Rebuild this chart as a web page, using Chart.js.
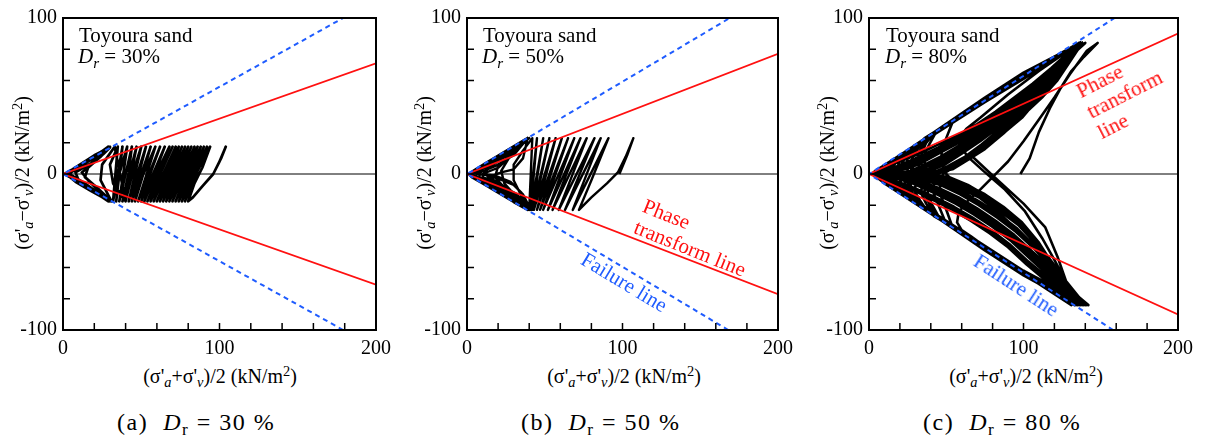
<!DOCTYPE html>
<html>
<head>
<meta charset="utf-8">
<script src="https://cdn.jsdelivr.net/npm/chart.js@4.4.0/dist/chart.umd.min.js"></script>
<style>
  body { margin: 0; background: #fff; width: 1207px; height: 438px; position: relative; overflow: hidden;
         font-family: "Liberation Serif", "Times New Roman", serif; color: #000; }
  .panel { position: absolute; top: 0; width: 400px; height: 360px; }
  .txt { position: absolute; white-space: nowrap; line-height: 1; }
  .note { font-size: 21px; line-height: 21px; }
  .axt { font-size: 20px; line-height: 20px; width: 300px; text-align: center; }
  .ayt { font-size: 20px; line-height: 24px; width: 240px; height: 24px; text-align: center; transform: rotate(-90deg); }
  .cap { font-size: 24px; line-height: 24px; letter-spacing: 1.5px; }
  .lab { font-size: 21px; line-height: 23px; transform-origin: 50% 50%; }
  .red { color: #ff1010; }
  .blue { color: #1f5cff; }
  .sub { font-size: 0.72em; vertical-align: -0.3em; line-height: 0; }
  .sup { font-size: 0.72em; vertical-align: 0.5em; line-height: 0; }
</style>
</head>
<body>

<div class="panel" style="left:0"><canvas id="cA" width="400" height="360"></canvas></div>
<div class="panel" style="left:400px"><canvas id="cB" width="400" height="360"></canvas></div>
<div class="panel" style="left:800px"><canvas id="cC" width="400" height="360"></canvas></div>

<!-- panel (a) -->
<div class="txt note" style="left:79px; top:25px">Toyoura sand</div>
<div class="txt note" style="left:78px; top:46px"><i>D</i><span class="sub"><i>r</i></span> = 30%</div>
<div class="txt axt" style="left:70px; top:366px">(σ'<span class="sub"><i>a</i></span>+σ'<span class="sub"><i>v</i></span>)/2 (kN/m<span class="sup">2</span>)</div>
<div class="txt ayt" style="left:-98px; top:161px">(σ'<span class="sub"><i>a</i></span>−σ'<span class="sub"><i>v</i></span>)/2 (kN/m<span class="sup">2</span>)</div>
<div class="txt cap" style="left:117px; top:410px">(a)&nbsp;&nbsp;<i>D</i><span class="sub">r</span> = 30 %</div>

<!-- panel (b) -->
<div class="txt note" style="left:483px; top:25px">Toyoura sand</div>
<div class="txt note" style="left:482px; top:46px"><i>D</i><span class="sub"><i>r</i></span> = 50%</div>
<div class="txt axt" style="left:474px; top:366px">(σ'<span class="sub"><i>a</i></span>+σ'<span class="sub"><i>v</i></span>)/2 (kN/m<span class="sup">2</span>)</div>
<div class="txt ayt" style="left:304px; top:161px">(σ'<span class="sub"><i>a</i></span>−σ'<span class="sub"><i>v</i></span>)/2 (kN/m<span class="sup">2</span>)</div>
<div class="txt cap" style="left:521px; top:410px">(b)&nbsp;&nbsp;<i>D</i><span class="sub">r</span> = 50 %</div>
<div class="txt lab red" style="left:635px; top:215px; width:118px; height:46px; transform:rotate(22deg)">Phase<br>transform line</div>
<div class="txt lab blue" style="left:576px; top:271px; width:96px; height:23px; transform:rotate(31deg)">Failure line</div>

<!-- panel (c) -->
<div class="txt note" style="left:886px; top:25px">Toyoura sand</div>
<div class="txt note" style="left:885px; top:46px"><i>D</i><span class="sub"><i>r</i></span> = 80%</div>
<div class="txt axt" style="left:876px; top:366px">(σ'<span class="sub"><i>a</i></span>+σ'<span class="sub"><i>v</i></span>)/2 (kN/m<span class="sup">2</span>)</div>
<div class="txt ayt" style="left:707px; top:161px">(σ'<span class="sub"><i>a</i></span>−σ'<span class="sub"><i>v</i></span>)/2 (kN/m<span class="sup">2</span>)</div>
<div class="txt cap" style="left:923px; top:410px">(c)&nbsp;&nbsp;<i>D</i><span class="sub">r</span> = 80 %</div>
<div class="txt lab red" style="left:1084px; top:60px; width:82px; height:69px; transform:rotate(-27deg)">Phase<br>transform<br>line</div>
<div class="txt lab blue" style="left:968px; top:274px; width:96px; height:23px; transform:rotate(33deg)">Failure line</div>

<script>
// axis ranges and labelled ticks
const xRange = [0, 200];
const yRange = [-100, 100];
const tickStep = 20;
const xTickLabels = [0, 100, 200];
const yTickLabels = [-100, 0, 100];

const zeroLine = [[0, 0], [200, 0]];

// phase transform and failure lines (both branches, through the origin)
const phaseA = [[200, -71], [0, 0], [200, 71]];
const failureA = [[179, -100], [0, 0], [179, 100]];
const phaseB = [[200, -77], [0, 0], [200, 77]];
const failureB = [[168, -100], [0, 0], [169, 100]];
const phaseC = [[200, -90], [0, 0], [200, 90]];
const failureC = [[158, -100], [0, 0], [159, 100]];

// effective stress paths, Dr = 30 %
const pathA = [
  [96, 0], [101, 10], [104, 17.5], [100, 8], [96, 0], [89, -8], [83, -15], [80, -17.5],
  [84, -6], [89, 4], [94, 17.5], [86, 2], [78, -17.5], [85, 1], [92, 17.5], [83, -2], [76, -17.5],
  [90, 17.5], [74, -17.5], [81, 0], [88, 17.5], [72, -17.5], [86, 17.5], [77, -1], [70, -17.5],
  [84, 17.5], [68, -17.5], [75, 1], [82, 17.5], [66, -17.5], [80, 17.5], [71, -2], [64, -17.5],
  [78, 17.5], [62, -17.5], [69, 1], [76, 17.5], [60, -17.5], [74, 17.5], [65, -1], [58, -17.5],
  [72, 17.5], [56, -17.5], [63, 2], [70, 17.5], [54, -17.5], [68, 17.5], [59, -1], [52, -17.5],
  [65, 17.5], [50, -17.5], [56, 1], [62, 17.5], [48, -17.5], [59, 17.5], [51, -1], [46, -17.5],
  [56, 17.5], [44, -17.5], [49, 2], [53, 17.5], [42, -17.5], [50, 17.5], [44, -1], [40, -17.5],
  [47, 17.5], [38, -17.5], [42, 1], [44, 17.5], [36, -17.5], [41, 17.5], [36, 0], [34, -17.5],
  [38, 17.5], [32, -17.5], [35, 17.5], [30, 6], [32, -6], [40, -17.5], [33, 17.5], [25, 6],
  [24, -4], [31, -17.5], [22, -9], [14, -2], [16, 4], [24, 11], [30, 17.5], [18, 7], [8, 1],
  [10, -4], [20, -11], [30, -17.5], [14, -6], [4, 0], [10, 5], [20, 11], [29, 17.5], [12, 5],
  [3, 0], [12, -6], [29, -17.5], [10, -4], [2, 0], [10, 5], [28, 16.5], [8, 3], [1, 0], [8, -4],
  [28, -16.5], [20, -11], [12, -6], [4, -1], [6, 2], [16, 8], [28, 15.5], [18, 10], [8, 4],
  [2, 0], [8, -5], [18, -11], [29, -17], [22, -10], [16, -4], [12, 1], [18, 6], [26, 13], [30, 17],
  [20, 12], [6, 3], [1, 0], [6, -3], [18, -10], [28, -16], [6, -2], [1, 0], [6, 3], [27, 16]
];

// effective stress paths, Dr = 50 %
const pathB = [
  [98, 0], [103, 12], [107, 23], [102, 11], [97, 1], [90, -6], [80, -15], [72, -23],
  [80, -4], [91, 23], [68, -23], [86, 23], [63, -23], [82, 23], [59, -23], [77, 23],
  [55, -23], [73, 23], [52, -23], [69, 23], [49, -23], [65, 23], [47, -23], [61, 23],
  [45, -23], [57, 23], [43, -23], [53, 23], [42, -23], [49, 23], [41, -23], [45, 23],
  [40, -23], [42, 23], [36, 15], [30, 6], [30, -4], [35, -14], [41, -23],
  [32, -15], [24, -6], [22, 2], [28, 12], [40, 23], [30, 14], [20, 5], [18, -2], [26, -11], [40, -23],
  [28, -14], [14, -4], [12, 2], [22, 10], [40, 23], [26, 12], [12, 3], [10, -2], [20, -6], [32, -13], [41, -23],
  [24, -12], [8, -2], [8, 2], [20, 10], [39, 23], [20, 10], [6, 1], [6, -2], [18, -6], [30, -13], [40, -23],
  [18, -9], [4, -1], [5, 2], [18, 10], [39, 23], [14, 7], [2, 0], [14, -5], [28, -12], [40, -23],
  [12, -6], [1, 0], [12, 7], [38, 22.5], [26, 14], [14, 6], [4, 1], [3, -1], [12, -6], [24, -13],
  [40, -23], [26, -15], [12, -6], [3, -1], [4, 1], [14, 8], [26, 15], [39, 23], [30, 17], [18, 9],
  [8, 3], [2, 0], [8, -4], [18, -10], [30, -17], [40, -23], [32, -18], [22, -12], [10, -5], [2, 0],
  [10, 5], [22, 12], [32, 18], [39, 23], [30, 13], [20, 4], [10, 0], [20, -3], [30, -7], [36, -13],
  [41, -23], [35, -12], [28, -5], [18, -1], [6, 0], [18, 5], [30, 12], [39, 23], [36, 10], [30, 3],
  [22, 1], [14, -2], [24, -8], [34, -15], [40, -23], [30, -16], [20, -10], [8, -4], [2, 0], [12, 6],
  [24, 13], [38, 22.5], [28, 16], [16, 9], [6, 3], [1, 0], [6, -3], [18, -10], [30, -17], [39, -23],
  [30, -18], [20, -12], [10, -6], [3, -2], [1, 0], [4, 2], [12, 7], [22, 13], [31, 18], [39, 23],
  [28, 15], [16, 7], [6, 2], [2, 0], [6, -2], [16, -8], [28, -16], [38, -22]
];

// effective stress paths, Dr = 80 %
const pathC = [
  [98, 0], [104, 10], [110, 27], [117, 42], [124, 55], [131, 66], [139, 75], [148, 84],
  [141, 79], [130, 64], [120, 49], [110, 35], [100, 21], [90, 8], [80, -2], [71, -11], [62, -19],
  [58, -25], [57, -31], [60, -36], [66, -40], [80, -50], [100, -63], [120, -76], [142, -84],
  [136, -79], [127, -68], [120, -55], [112, -41], [101, -24], [88, -10], [74, 2], [64, 11],
  [59, 18], [59, 24], [63, 29], [72, 36], [90, 51], [110, 66], [126, 77], [140, 84],
  [131, 76], [118, 60], [104, 45], [90, 32], [78, 21], [68, 14], [66, 12], [80, -1], [100, -19],
  [114, -34], [122, -53], [128, -70], [133, -84],
  [126, -75], [118, -60], [108, -45], [96, -32], [84, -21], [72, -13], [60, -6], [52, -2], [50, 0],
  [47, 7], [47, 15], [50, 23], [54, 33], [75, 46], [100, 62], [120, 74], [137, 84],
  [130, 72], [122, 60], [112, 49], [100, 38], [90, 30], [78, 20], [66, 11], [56, 5], [48, 0],
  [46, -6], [46, -13], [49, -20], [54, -34], [75, -47], [100, -63], [137, -84],
  [128, -73], [118, -60], [106, -46], [94, -34], [82, -23], [70, -14], [58, -7], [46, -2], [36, 0],
  [34, 6], [34, 13], [37, 20], [42, 26], [75, 46], [100, 61], [137, 84],
  [130, 73], [121, 61], [111, 50], [99, 37], [87, 26], [75, 16], [64, 9], [54, 3], [40, 0],
  [38, -6], [38, -13], [41, -20], [46, -29], [75, -49], [100, -65], [141, -84],
  [129, -72], [119, -58], [110, -44], [99, -31], [87, -21], [75, -13], [63, -7], [51, -2], [34, 0],
  [32, 6], [32, 13], [35, 19], [40, 25], [75, 48], [100, 64], [138, 84],
  [130, 73], [121, 62], [110, 50], [98, 38], [86, 27], [74, 18], [63, 10], [53, 4], [36, 0],
  [34, -6], [34, -13], [37, -19], [42, -27], [75, -46], [100, -62], [139, -84],
  [128, -71], [119, -57], [109, -44], [98, -32], [86, -22], [74, -14], [62, -8], [50, -3], [30, 0],
  [28, 5], [28, 12], [31, 17], [36, 23], [75, 47], [100, 63], [137, 84],
  [130, 74], [120, 62], [109, 50], [97, 39], [85, 29], [73, 19], [62, 11], [51, 5], [42, 1], [32, 0],
  [30, -5], [30, -12], [33, -17], [38, -24], [75, -48], [100, -64], [137, -84],
  [128, -71], [119, -58], [108, -45], [97, -33], [85, -24], [73, -16], [61, -10], [49, -5], [26, 0],
  [24, 5], [25, 10], [28, 15], [32, 20], [75, 49], [100, 65], [137, 84],
  [129, 74], [120, 63], [108, 51], [96, 40], [84, 30], [72, 21], [60, 13], [49, 6], [40, 2], [28, 0],
  [27, -5], [27, -10], [30, -15], [34, -21], [75, -47], [100, -63], [134, -84],
  [127, -72], [118, -59], [108, -47], [96, -35], [84, -26], [72, -18], [60, -11], [48, -6], [36, -2], [22, 0],
  [21, 4], [22, 9], [25, 13], [29, 18], [75, 46], [100, 62], [136, 84],
  [129, 74], [119, 64], [107, 52], [95, 42], [83, 32], [71, 23], [59, 15], [48, 8], [38, 3], [24, 0],
  [23, -4], [24, -9], [27, -13], [31, -19], [75, -49], [100, -65], [136, -84],
  [127, -72], [118, -60], [107, -48], [95, -37], [83, -28], [71, -20], [59, -13], [46, -7], [33, -3], [18, 0],
  [18, 4], [20, 8], [23, 12], [26, 16], [75, 48], [100, 64], [137, 84],
  [129, 75], [119, 64], [107, 53], [95, 43], [83, 33], [71, 24], [59, 16], [47, 9], [36, 4], [20, 0],
  [20, -4], [22, -8], [25, -12], [28, -17], [75, -46], [100, -62], [142, -84],
  [128, -73], [118, -61], [106, -50], [94, -39], [82, -30], [70, -22], [58, -15], [45, -9], [32, -4], [14, 0],
  [15, 3], [17, 7], [20, 10], [23, 14], [75, 47], [100, 63], [137, 84],
  [128, 75], [118, 65], [106, 54], [94, 44], [82, 35], [70, 26], [58, 18], [46, 11], [34, 5], [24, 1], [16, 0],
  [17, -3], [19, -7], [22, -10], [25, -15], [75, -48], [100, -64], [140, -84],
  [127, -74], [117, -63], [105, -52], [93, -41], [81, -32], [69, -24], [57, -17], [44, -10], [30, -5], [18, -1], [10, 0],
  [12, 3], [15, 6], [19, 10], [75, 49], [100, 65], [138, 84],
  [128, 75], [118, 65], [106, 55], [94, 45], [82, 36], [70, 28], [58, 20], [45, 13], [32, 6], [20, 2], [12, 0],
  [14, -3], [17, -6], [20, -11], [75, -47], [100, -63], [138, -84],
  [126, -75], [116, -65], [104, -54], [92, -43], [80, -34], [68, -26], [56, -19], [42, -12], [28, -6], [15, -2], [7, 0],
  [9, 2], [12, 5], [16, 9], [75, 46], [100, 62], [137, 84],
  [128, 76], [118, 66], [106, 56], [94, 47], [82, 38], [70, 29], [58, 22], [45, 15], [31, 8], [18, 3], [8, 0],
  [10, -2], [14, -6], [18, -10], [75, -49], [100, -65], [135, -84],
  [125, -76], [115, -66], [103, -56], [91, -45], [79, -36], [67, -28], [55, -21], [41, -14], [27, -8], [13, -3], [4, 0],
  [6, 2], [10, 5], [75, 48], [100, 64], [136, 84],
  [128, 76], [118, 67], [106, 57], [94, 48], [82, 39], [70, 31], [58, 24], [45, 17], [30, 10], [16, 4], [5, 0],
  [7, -2], [11, -6], [75, -47], [100, -63], [133, -84],
  [124, -77], [114, -68], [102, -58], [90, -47], [78, -38], [66, -30], [54, -23], [40, -16], [26, -9], [12, -3], [2, 0],
  [4, 2], [9, 5], [75, 47], [100, 63], [137, 84],
  [128, 77], [118, 68], [106, 58], [94, 49], [82, 40], [70, 32], [58, 25], [45, 19], [30, 12], [15, 6], [2, 0],
  [5, -2], [10, -6], [75, -48], [100, -64], [131, -84],
  [125, -76], [115, -67], [103, -57], [91, -46], [79, -37], [67, -29], [55, -22], [41, -15], [27, -8], [13, -3], [3, 0],
  [5, 2], [9, 5], [75, 47], [100, 63], [137, 84],
  [128, 76], [118, 67], [106, 57], [94, 47], [82, 38], [70, 30], [58, 23], [45, 16], [30, 9], [16, 3], [6, 0],
  [8, -2], [12, -6], [75, -48], [100, -64], [139, -84],
  [126, -74], [116, -64], [104, -53], [92, -42], [80, -33], [68, -25], [56, -18], [43, -11], [29, -5], [16, -1], [8, 0],
  [10, 2], [14, 6], [18, 10], [75, 46], [100, 62], [138, 84],
  [128, 75], [118, 66], [106, 55], [94, 46], [82, 37], [70, 28], [58, 21], [45, 14], [32, 7], [19, 2], [10, 0],
  [12, -3], [15, -6], [19, -11], [75, -47], [100, -63], [141, -84],
  [127, -73], [117, -62], [106, -51], [94, -40], [82, -31], [70, -23], [58, -16], [45, -10], [32, -4], [12, 0],
  [14, 3], [17, 7], [21, 12], [75, 48], [100, 64], [137, 84],
  [128, 75], [118, 65], [106, 54], [94, 44], [82, 34], [70, 25], [58, 17], [46, 10], [35, 4], [22, 1], [14, 0],
  [15, -3], [18, -7], [22, -12], [75, -46], [100, -62], [135, -84],
  [127, -72], [118, -60], [107, -47], [96, -36], [84, -27], [72, -19], [60, -12], [47, -6], [34, -2], [20, 0],
  [20, 4], [22, 8], [25, 12], [29, 18], [75, 47], [100, 63], [136, 84],
  [129, 74], [119, 63], [107, 52], [95, 41], [83, 31], [71, 22], [59, 14], [48, 7], [38, 2], [26, 0],
  [25, -5], [26, -10], [29, -14], [33, -21], [75, -48], [100, -64], [138, -84],
  [128, -71], [119, -58], [109, -45], [98, -33], [86, -23], [74, -15], [62, -9], [50, -4], [28, 0],
  [27, 5], [28, 10], [31, 15], [35, 22], [75, 46], [100, 62], [137, 84],
  [130, 73], [120, 62], [109, 50], [97, 38], [85, 28], [73, 19], [62, 11], [51, 4], [38, 0],
  [36, -6], [36, -13], [39, -19], [44, -28], [75, -47], [100, -63], [140, -84],
  [129, -72], [120, -59], [110, -45], [99, -32], [88, -22], [76, -14], [64, -7], [52, -2], [38, 0],
  [36, 6], [36, 13], [39, 19], [44, 28], [75, 47], [100, 63], [138, 84],
  [130, 72], [121, 61], [110, 49], [99, 36], [88, 27], [76, 18], [65, 10], [55, 4], [44, 0],
  [42, -6], [42, -13], [45, -20], [50, -32], [75, -47], [100, -63], [136, -84]
];

Chart.defaults.font.family = "'Liberation Serif', 'Times New Roman', serif";
Chart.defaults.color = '#000';

const toXY = arr => arr.map(p => ({ x: p[0], y: p[1] }));

// frame plus short inward ticks on the left and bottom edges
const frameTicks = {
  id: 'frameTicks',
  afterDraw(chart) {
    const { ctx, chartArea: a, scales: { x, y } } = chart;
    ctx.save();
    ctx.strokeStyle = '#000';
    ctx.lineWidth = 1.5;
    ctx.beginPath();
    x.ticks.forEach(t => {
      const px = x.getPixelForValue(t.value);
      if (px <= a.left + 1 || px >= a.right - 1) return;
      ctx.moveTo(px, a.bottom);
      ctx.lineTo(px, a.bottom - 7);
    });
    y.ticks.forEach(t => {
      const py = y.getPixelForValue(t.value);
      if (py <= a.top + 1 || py >= a.bottom - 1) return;
      ctx.moveTo(a.left, py);
      ctx.lineTo(a.left + 7, py);
    });
    ctx.stroke();
    ctx.lineWidth = 2;
    ctx.strokeRect(a.left, a.top, a.right - a.left, a.bottom - a.top);
    ctx.restore();
  }
};

function makePanel(id, path, phase, failure, yWidth, rightPad, pathWidth) {
  const line = (data, color, width, order, dash) => ({
    data: toXY(data), showLine: true, pointRadius: 0, borderColor: color,
    borderWidth: width, borderDash: dash || [], order: order, tension: 0,
    borderJoinStyle: 'round', fill: false
  });
  const tickFont = { family: "'Liberation Serif', 'Times New Roman', serif", size: 20 };
  return new Chart(document.getElementById(id), {
    type: 'scatter',
    data: {
      datasets: [
        line(zeroLine, '#000', 1, 4),
        line(path, '#000', pathWidth, 3),
        line(phase, '#ff1010', 1.8, 1),
        line(failure, '#1f5cff', 2, 0, [5, 4])
      ]
    },
    options: {
      responsive: false,
      animation: false,
      devicePixelRatio: 1,
      events: [],
      layout: { padding: { left: 0, right: rightPad, top: 16, bottom: 0 } },
      plugins: { legend: { display: false }, tooltip: { enabled: false } },
      scales: {
        x: {
          type: 'linear', min: xRange[0], max: xRange[1],
          grid: { display: false, drawTicks: false }, border: { display: false },
          ticks: {
            stepSize: tickStep, autoSkip: false, maxRotation: 0, padding: 7,
            font: tickFont, color: '#000',
            callback: v => xTickLabels.includes(v) ? String(v) : ''
          },
          afterFit: s => { s.height = 30; }
        },
        y: {
          type: 'linear', min: yRange[0], max: yRange[1],
          grid: { display: false, drawTicks: false }, border: { display: false },
          ticks: {
            stepSize: tickStep, autoSkip: false, padding: 6,
            font: tickFont, color: '#000',
            callback: v => yTickLabels.includes(v) ? String(v) : ''
          },
          afterFit: s => { s.width = yWidth; }
        }
      }
    },
    plugins: [frameTicks]
  });
}

makePanel('cA', pathA, phaseA, failureA, 63, 24, 2.7);
makePanel('cB', pathB, phaseB, failureB, 67, 20, 2.4);
makePanel('cC', pathC, phaseC, failureC, 69, 18, 2.6);
</script>
</body>
</html>
